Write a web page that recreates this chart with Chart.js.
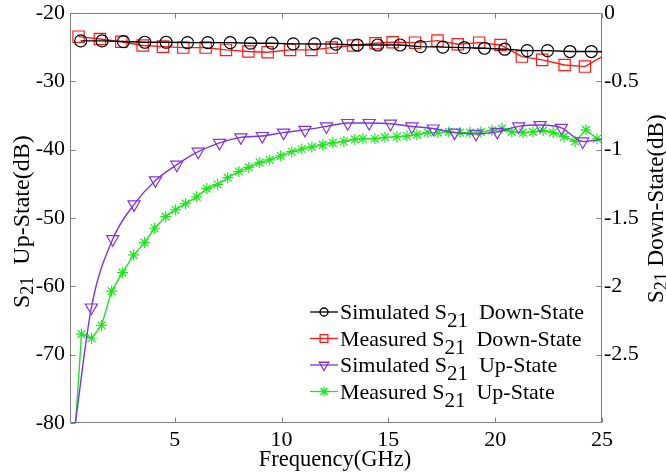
<!DOCTYPE html>
<html>
<head>
<meta charset="utf-8">
<script src="https://cdn.jsdelivr.net/npm/chart.js@4.4.0/dist/chart.umd.min.js"></script>
<style>
  body { margin: 0; background: #fff; }
</style>
</head>
<body>
<canvas id="s21Chart" width="666" height="476"></canvas>
<script>
// tick values
const xTicks = [5, 10, 15, 20, 25];
const upTicks = [-20, -30, -40, -50, -60, -70, -80];
const downTicks = [0, -0.5, -1, -1.5, -2, -2.5];

// Simulated S21 Down-State (right axis)
const simDownFreq = [0.6, 1.6, 2.6, 3.6, 4.6, 5.6, 6.55, 7.6, 8.55, 9.55, 10.55, 11.55, 12.55,
    13.55, 14.5, 15.55, 16.5, 17.55, 18.55, 19.5, 20.45, 21.5, 22.45, 23.5, 24.5, 25];
const simDownS21 = [-0.204, -0.204, -0.209, -0.214, -0.214, -0.217, -0.217, -0.217, -0.221, -0.221,
    -0.226, -0.226, -0.228, -0.234, -0.234, -0.234, -0.246, -0.25, -0.253, -0.258, -0.265, -0.275,
    -0.275, -0.282, -0.282, -0.284];

// Measured S21 Down-State (right axis)
const measDownFreq = [0.5, 1.5, 2.5, 3.5, 4.45, 5.4, 6.45, 7.4, 8.45, 9.35, 10.4, 11.4, 12.35,
    13.35, 14.4, 15.2, 16.25, 17.3, 18.25, 19.25, 20.25, 21.25, 22.2, 23.25, 24.2, 25];
const measDownS21 = [-0.173, -0.19, -0.21, -0.238, -0.246, -0.253, -0.253, -0.27, -0.282, -0.287,
    -0.27, -0.27, -0.253, -0.238, -0.221, -0.214, -0.217, -0.202, -0.229, -0.217, -0.234, -0.319,
    -0.343, -0.38, -0.392, -0.319];

// Simulated S21 Up-State (left axis)
const simUpFreq = [0.35, 1.1, 2.1, 3.1, 4.1, 5.1, 6.1, 7.1, 8.1, 9.1, 10.1, 11.1, 12.1, 13.1,
    14.1, 15.1, 16.1, 17.1, 18.1, 19.1, 20.1, 21.1, 22.1, 23.1, 24.1, 25];
const simUpS21 = [-80, -63.1, -53.1, -48.0, -44.5, -42.2, -40.3, -39.0, -38.2, -38.0, -37.5, -37.1,
    -36.6, -36.1, -36.1, -36.2, -36.6, -36.9, -37.5, -37.7, -37.4, -36.6, -36.4, -36.8, -38.8, -38.5];

// Measured S21 Up-State (left axis)
const measUpFreq = [0.36, 0.64, 1.11, 1.58, 2.05, 2.56, 3.08, 3.59, 4.06, 4.58, 5.04, 5.51, 6.03,
    6.5, 7.01, 7.48, 8.0, 8.47, 8.98, 9.45, 9.96, 10.48, 10.95, 11.42, 11.93, 12.4, 12.92, 13.43,
    13.81, 14.37, 14.84, 15.4, 15.87, 16.34, 16.85, 17.32, 17.83, 18.35, 18.82, 19.33, 19.85,
    20.32, 20.78, 21.3, 21.77, 22.24, 22.71, 23.22, 23.74, 24.25, 24.77, 25];
const measUpS21 = [-80, -67.0, -67.6, -65.7, -60.7, -58.0, -55.4, -53.6, -51.5, -49.8, -48.8, -47.9,
    -46.9, -45.7, -45.1, -44.1, -43.2, -42.6, -41.9, -41.5, -40.9, -40.3, -39.9, -39.6, -39.3, -39.0,
    -38.8, -38.5, -38.4, -38.4, -38.2, -38.1, -38.0, -37.8, -37.5, -37.5, -37.4, -37.5, -37.5, -37.4,
    -37.2, -36.9, -37.4, -37.5, -37.4, -37.2, -37.5, -38.1, -38.8, -37.1, -38.4, -38.6];

const axisGray = '#7f7f7f';
const legendFont = { main: '22px "Liberation Serif"', sub: '21px "Liberation Serif"', shift: 8 };
const leftTitleFont = { main: '24px "Liberation Serif"', sub: '18px "Liberation Serif"', shift: 4 };
const rightTitleFont = { main: '23px "Liberation Serif"', sub: '18px "Liberation Serif"', shift: 4 };

Chart.defaults.font.family = '"Liberation Serif"';
Chart.defaults.font.size = 22;
Chart.defaults.color = '#000';

function series(freq, s21) {
    return freq.map((f, i) => ({ x: f, y: s21[i] }));
}

// end points are only part of the line, no marker there
function markerRadius(r, noMarker) {
    return ctx => noMarker.includes(ctx.dataIndex) ? 0 : r;
}

const traces = [
    { pre: 'Simulated S', post: '  Down-State', color: '#000000', style: 'circle', rot: 0, r: 6, lr: 4,
      data: series(simDownFreq, simDownS21), axis: 'y2', skip: [simDownFreq.length - 1], smooth: false },
    { pre: 'Measured S', post: '  Down-State', color: '#ff1a1a', style: 'rect', rot: 0, r: 8, lr: 5.5,
      data: series(measDownFreq, measDownS21), axis: 'y2', skip: [measDownFreq.length - 1], smooth: false },
    { pre: 'Simulated S', post: '  Up-State', color: '#8033e6', style: 'triangle', rot: 180, r: 7, lr: 5.5,
      data: series(simUpFreq, simUpS21), axis: 'y', skip: [0, simUpFreq.length - 1], smooth: true },
    { pre: 'Measured S', post: '  Up-State', color: '#1ee61e', style: 'star', rot: 0, r: 5.5, lr: 5,
      data: series(measUpFreq, measUpS21), axis: 'y', skip: [0, measUpFreq.length - 1], smooth: false }
];

function drawS21Text(ctx, f, pre, post, x, y) {
    ctx.font = f.main;
    ctx.fillText(pre, x, y);
    x += ctx.measureText(pre).width;
    ctx.font = f.sub;
    ctx.fillText('21', x, y + f.shift);
    x += ctx.measureText('21').width;
    ctx.font = f.main;
    ctx.fillText(post, x, y);
}

function drawMarker(ctx, t, x, y, r) {
    const opts = { pointStyle: t.style, rotation: t.rot, radius: r, borderWidth: 1.2 };
    if (Chart.helpers && Chart.helpers.drawPoint) {
        Chart.helpers.drawPoint(ctx, opts, x, y);
    } else {
        ctx.beginPath();
        ctx.arc(x, y, r, 0, Math.PI * 2);
        ctx.stroke();
    }
}

// box, inward ticks, axis titles and legend
const decorations = {
    id: 'decorations',
    beforeDatasetsDraw(chart) {
        const { ctx, chartArea: a, scales } = chart;
        const L = Math.round(a.left) + 0.5, R = Math.round(a.right) - 0.5;
        const T = Math.round(a.top) + 0.5, B = Math.round(a.bottom) - 0.5;
        ctx.save();
        ctx.strokeStyle = axisGray;
        ctx.lineWidth = 1;
        ctx.beginPath();
        ctx.rect(L, T, R - L, B - T);
        xTicks.forEach(v => {
            const px = Math.round(scales.x.getPixelForValue(v)) + 0.5;
            ctx.moveTo(px, B); ctx.lineTo(px, B - 5);
            ctx.moveTo(px, T); ctx.lineTo(px, T + 5);
        });
        upTicks.forEach(v => {
            const py = Math.round(scales.y.getPixelForValue(v)) + 0.5;
            ctx.moveTo(L, py); ctx.lineTo(L + 5, py);
        });
        downTicks.forEach(v => {
            const py = Math.round(scales.y2.getPixelForValue(v)) + 0.5;
            ctx.moveTo(R, py); ctx.lineTo(R - 5, py);
        });
        ctx.stroke();
        ctx.restore();
    },
    afterDraw(chart) {
        const { ctx } = chart;
        ctx.save();
        ctx.fillStyle = '#000';
        ctx.textBaseline = 'alphabetic';

        // x title
        ctx.font = '22.5px "Liberation Serif"';
        ctx.textAlign = 'center';
        ctx.fillText('Frequency(GHz)', 335, 466);
        ctx.textAlign = 'left';

        // y titles, rotated
        ctx.save();
        ctx.translate(29, 308);
        ctx.rotate(-Math.PI / 2);
        drawS21Text(ctx, leftTitleFont, 'S', '  Up-State(dB)', 0, 0);
        ctx.restore();

        ctx.save();
        ctx.translate(663, 303);
        ctx.rotate(-Math.PI / 2);
        drawS21Text(ctx, rightTitleFont, 'S', ' Down-State(dB)', 0, 0);
        ctx.restore();

        // legend
        traces.forEach((t, i) => {
            const y = 312 + i * 26.5;
            ctx.strokeStyle = t.color;
            ctx.fillStyle = 'rgba(0,0,0,0)';
            ctx.lineWidth = 1.3;
            ctx.beginPath();
            ctx.moveTo(310, y);
            ctx.lineTo(338, y);
            ctx.stroke();
            drawMarker(ctx, t, 324, y, t.lr);
            ctx.fillStyle = '#000';
            drawS21Text(ctx, legendFont, t.pre, t.post, 340, y + 7);
        });
        ctx.restore();
    }
};

function noEdgePadding(s) {
    s.paddingTop = 0;
    s.paddingBottom = 0;
    s.paddingLeft = 0;
    s.paddingRight = 0;
}

new Chart(document.getElementById('s21Chart'), {
    type: 'line',
    data: {
        datasets: traces.map(t => ({
            label: t.pre + '21' + t.post,
            data: t.data,
            yAxisID: t.axis,
            borderColor: t.color,
            borderWidth: 1.4,
            pointStyle: t.style,
            pointRotation: t.rot,
            pointRadius: markerRadius(t.r, t.skip),
            pointBorderColor: t.color,
            pointBackgroundColor: 'rgba(0,0,0,0)',
            pointBorderWidth: 1.2,
            cubicInterpolationMode: t.smooth ? 'monotone' : 'default',
            tension: 0,
            fill: false
        }))
    },
    options: {
        responsive: false,
        animation: false,
        events: [],
        layout: { padding: { top: 13, left: 0, right: 0, bottom: 0 } },
        plugins: {
            legend: { display: false },
            tooltip: { enabled: false }
        },
        scales: {
            x: {
                type: 'linear',
                min: 0.1,
                max: 25,
                grid: { display: false, drawTicks: false },
                border: { display: false },
                ticks: { padding: 4, maxRotation: 0, callback: v => String(v) },
                afterBuildTicks: s => { s.ticks = xTicks.map(v => ({ value: v })); },
                afterFit: s => { s.height = 53; noEdgePadding(s); }
            },
            y: {
                position: 'left',
                min: -80,
                max: -20,
                grid: { display: false, drawTicks: false },
                border: { display: false },
                ticks: { padding: 5, callback: v => String(v) },
                afterBuildTicks: s => { s.ticks = upTicks.map(v => ({ value: v })); },
                afterFit: s => { s.width = 70; noEdgePadding(s); }
            },
            y2: {
                position: 'right',
                min: -3,
                max: 0,
                grid: { display: false, drawTicks: false },
                border: { display: false },
                ticks: { padding: 2, callback: v => String(v) },
                afterBuildTicks: s => { s.ticks = downTicks.map(v => ({ value: v })); },
                afterFit: s => { s.width = 64; noEdgePadding(s); }
            }
        }
    },
    plugins: [decorations]
});
</script>
</body>
</html>
